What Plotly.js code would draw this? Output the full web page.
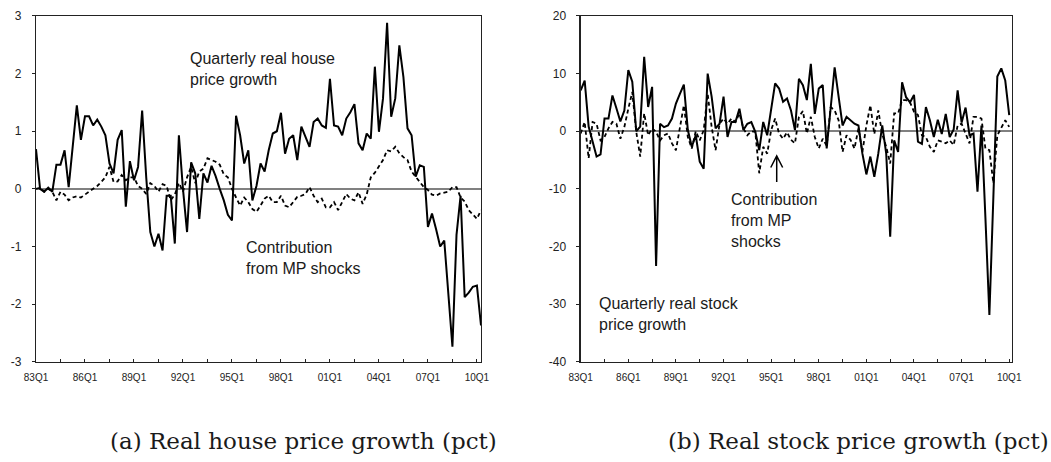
<!DOCTYPE html>
<html>
<head>
<meta charset="utf-8">
<script src="https://cdn.plot.ly/plotly-3.0.1.min.js"></script>
<style>
html,body{margin:0;padding:0;background:#fff;}
#chart{width:1051px;height:462px;}
</style>
</head>
<body>
<div id="chart"></div>
<script>
// Quarter labels (ticks every 6 quarters, labels every 12)
const tickLabels = ['83Q1','','86Q1','','89Q1','','92Q1','','95Q1','','98Q1','','01Q1','','04Q1','','07Q1','','10Q1'];
const tickPositions = [0,6,12,18,24,30,36,42,48,54,60,66,72,78,84,90,96,102,108];

// Panel (a): real house price growth (pct), 83Q1 onwards
const houseGrowth = [
  0.69, 0.0, -0.05, 0.02, -0.05, 0.42, 0.42, 0.67, 0.03, 0.75,
  1.45, 0.85, 1.26, 1.26, 1.1, 1.2, 1.08, 0.93, 0.44, 0.27,
  0.85, 1.02, -0.31, 0.48, 0.15, 0.38, 1.36, 0.2, -0.75, -1.0,
  -0.78, -1.07, -0.12, -0.12, -0.95, 0.93, 0.0, -0.75, 0.46, 0.27,
  -0.52, 0.27, 0.11, 0.4, 0.22, 0.0, -0.2, -0.45, -0.55, 1.27,
  0.93, 0.44, 0.67, -0.2, 0.05, 0.44, 0.3, 0.67, 0.96, 1.0,
  1.32, 0.61, 0.87, 0.93, 0.5, 1.08, 0.9, 0.73, 1.16, 1.22,
  1.1, 1.06, 1.91, 1.1, 1.08, 0.93, 1.22, 1.33, 1.47, 0.79,
  0.67, 0.96, 0.87, 2.12, 0.99, 1.57, 2.88, 1.25, 1.57, 2.49,
  1.94, 1.05, 0.93, 0.21, 0.41, 0.38, -0.66, -0.43, -0.7, -1.0,
  -0.9, -1.8, -2.74, -0.8, -0.12, -1.88, -1.8, -1.7, -1.68, -2.37
];
const houseMP = [
  0.0, 0.02, -0.05, 0.0, -0.05, -0.2, -0.05, -0.1, -0.2, -0.15,
  -0.13, -0.15, -0.1, -0.05, 0.0, 0.05, 0.12, 0.2, 0.38, 0.12,
  0.13, 0.24, 0.15, 0.2, 0.2, 0.05, 0.0, -0.09, 0.1, 0.05,
  -0.05, 0.08, 0.05, -0.2, -0.1, 0.1, -0.05, 0.2, 0.38, 0.1,
  0.3, 0.35, 0.53, 0.5, 0.47, 0.42, 0.25, 0.2, 0.0, -0.15,
  -0.29, -0.15, -0.23, -0.35, -0.4, -0.29, -0.17, -0.12, -0.23, -0.23,
  -0.12, -0.29, -0.32, -0.23, -0.14, -0.12, -0.09, 0.03, -0.12, -0.23,
  -0.17, -0.32, -0.32, -0.23, -0.37, -0.23, -0.09, -0.17, -0.2, -0.06,
  -0.26, -0.1, 0.2, 0.28, 0.38, 0.5, 0.67, 0.65, 0.73, 0.62,
  0.55, 0.5, 0.3, 0.2, 0.12, 0.03, -0.02, -0.1, -0.12, -0.08,
  -0.06, -0.05, 0.03, 0.03, -0.15, -0.22, -0.37, -0.45, -0.52, -0.37
];

// Panel (b): real stock price growth (pct)
const stockGrowth = [
  7.1, 8.8, 0.8, -2.0, -4.4, -4.0, 2.2, 2.2, 6.2, 4.0,
  1.7, 3.6, 10.6, 8.6, 0.0, 0.8, 12.9, 4.2, 7.7, -23.4,
  1.3, 0.7, 1.0, 2.2, 4.8, 6.5, 8.1, 0.2, -2.7, -0.7,
  -5.3, -6.5, 10.0, 6.0, 0.5, 1.3, 6.0, -1.0, 1.6, 1.6,
  3.9, 0.2, 1.3, 1.6, -0.1, -3.3, 1.6, -0.7, 4.2, 8.3,
  7.4, 5.1, 5.7, 3.6, 0.2, 9.1, 8.0, 5.4, 11.7, 3.0,
  7.4, 8.0, -3.0, 4.0, 11.1, 6.0, 1.0, 2.5, 1.9, 1.3,
  1.0, -3.9, -7.5, -4.4, -7.9, -3.9, 1.0, -3.9, -18.3, -1.6,
  -3.6, 8.5, 5.9, 5.0, 6.3, -1.8, -2.2, 4.2, 1.9, -1.0,
  2.0, -0.5, 3.0, -1.0, 0.3, 7.1, 1.5, 4.1, -0.7, -0.4,
  -10.5, 1.0, -15.0, -31.9, -11.5, 9.5, 10.9, 8.8, 2.8
];
const stockMP = [
  -0.4, 1.6, -4.7, 1.6, 1.3, -1.6, -1.0, 0.5, 1.6, 1.3,
  -1.3, 0.75, 3.9, 6.8, -0.1, -4.4, 3.1, -0.7, 0.5, -0.1,
  -1.6, -0.7, -0.4, -2.1, -3.3, 0.75, 4.5, -1.0, -3.0, 0.0,
  -1.6, 0.2, 6.5, 0.75, -3.3, 1.3, 2.2, 1.3, 2.2, 1.6,
  3.1, 0.5, -0.7, 0.0, -0.1, -7.3, -2.7, -3.9, 0.2, 2.2,
  -0.4, -1.3, -0.2, -1.5, -2.1, 2.5, 3.5, -0.4, 2.5, -1.0,
  -3.0, -1.3, -2.5, 4.2, 3.6, 1.9, -3.6, -0.7, -1.5, -3.0,
  0.5, -3.6, 1.0, 4.5, -0.5, 3.6, -0.5, -2.7, -5.6, 3.1,
  3.1, 5.4, 5.4, 5.0, 3.4, 2.8, -0.7, -1.0, -2.7, -3.6,
  -1.6, -1.8, -2.1, -1.6, -2.4, 1.0, 1.3, -0.4, -2.1, 2.5,
  2.5, 2.2, -3.0, -3.3, -9.0, -0.7, 0.75, 1.9, 0.75
];

const houseTicks = [-3,-2,-1,0,1,2,3];
const houseTickText = ['-3','-2','-1','0','1','2','3'];
const stockTicks = [-40,-30,-20,-10,0,10,20];
const stockTickText = ['-40','-30','-20','-10','0','10','20'];

const idx = n => Array.from({length:n}, (_, i) => i);

const SANS = 'Liberation Sans, Arial, sans-serif';
const solid = {color:'#000', width:2};
const dashed = {color:'#000', width:1.8, dash:'4px,3px'};

const traces = [
  {x: idx(houseMP.length), y: houseMP, type:'scatter', mode:'lines', line:dashed, xaxis:'x', yaxis:'y', hoverinfo:'skip'},
  {x: idx(houseGrowth.length), y: houseGrowth, type:'scatter', mode:'lines', line:solid, xaxis:'x', yaxis:'y', hoverinfo:'skip'},
  {x: idx(stockMP.length), y: stockMP, type:'scatter', mode:'lines', line:dashed, xaxis:'x2', yaxis:'y3', hoverinfo:'skip'},
  {x: idx(stockGrowth.length), y: stockGrowth, type:'scatter', mode:'lines', line:solid, xaxis:'x2', yaxis:'y3', hoverinfo:'skip'}
];

const yDom = [0.2171, 0.9654];
const xBase = {
  tickmode:'array', tickvals:tickPositions, ticktext:tickLabels,
  ticks:'inside', ticklen:3, tickwidth:1, tickcolor:'#222',
  showline:true, mirror:true, linecolor:'#222', linewidth:1.2,
  showgrid:false, zeroline:false, fixedrange:true,
  tickfont:{family:SANS, size:10, color:'#222'}, ticklabelstandoff:6
};
const yLeftBase = {
  tickmode:'array', ticks:'outside', ticklen:3, tickwidth:1, tickcolor:'#222',
  showline:true, mirror:true, linecolor:'#222', linewidth:1.2,
  showgrid:false, zeroline:true, zerolinecolor:'#808080', zerolinewidth:1.5,
  tickfont:{family:SANS, size:12, color:'#222'}, domain:yDom, fixedrange:true
};
const yRightBase = {
  tickmode:'array', ticks:'outside', ticklen:3, tickwidth:1, tickcolor:'#222',
  showline:false, showgrid:false, zeroline:false, side:'right',
  tickfont:{family:SANS, size:12, color:'#222'}, fixedrange:true
};

const annFont = {family:SANS, size:16, color:'#1a1a1a'};
const capFont = {family:'DejaVu Serif, Liberation Serif, serif', size:23, color:'#1a1a1a'};

const layout = {
  width:1051, height:462,
  margin:{l:0, r:0, t:0, b:0, pad:0},
  paper_bgcolor:'#fff', plot_bgcolor:'#fff',
  showlegend:false,
  xaxis: Object.assign({}, xBase, {domain:[0.03425, 0.45766], range:[0,109], anchor:'y'}),
  yaxis: Object.assign({}, yLeftBase, {range:[-3,3], tickvals:houseTicks, ticktext:houseTickText, anchor:'x', ticklabelstandoff:8}),
  yaxis2: Object.assign({}, yRightBase, {range:[-3,3], tickvals:houseTicks, ticktext:houseTickText, overlaying:'y', anchor:'x', ticklabelstandoff:8}),
  xaxis2: Object.assign({}, xBase, {domain:[0.55252, 0.96289], range:[0,108.7], anchor:'y3'}),
  yaxis3: Object.assign({}, yLeftBase, {range:[-40,20], tickvals:stockTicks, ticktext:stockTickText, anchor:'x2', ticklabelstandoff:8}),
  yaxis4: Object.assign({}, yRightBase, {range:[-40,20], tickvals:stockTicks, ticktext:stockTickText, overlaying:'y3', anchor:'x2', ticklabelstandoff:8}),
  shapes: [
    {type:'path', xref:'x2', yref:'y3', path:'M49.4,-4.3 L49.4,-8.8 M47.9,-6.3 L49.4,-4.3 L50.9,-6.3', line:{color:'#000', width:1.5}}
  ],
  annotations: [
    {xref:'x', yref:'y', x:37.3, y:2.45, xanchor:'left', yanchor:'top', align:'left', showarrow:false,
     text:'Quarterly real house<br>price growth', font:annFont},
    {xref:'x', yref:'y', x:51.0, y:-0.83, xanchor:'left', yanchor:'top', align:'left', showarrow:false,
     text:'Contribution<br>from MP shocks', font:annFont},
    {xref:'x2', yref:'y3', x:37.4, y:-10.0, xanchor:'left', yanchor:'top', align:'left', showarrow:false,
     text:'Contribution<br>from MP<br>shocks', font:annFont},
    {xref:'x2', yref:'y3', x:4.2, y:-28.0, xanchor:'left', yanchor:'top', align:'left', showarrow:false,
     text:'Quarterly real stock<br>price growth', font:annFont},
    {xref:'paper', yref:'paper', x:0.2883, y:0.0455, xanchor:'center', yanchor:'middle', showarrow:false,
     text:'(a) Real house price growth (pct)', font:capFont},
    {xref:'paper', yref:'paper', x:0.8173, y:0.0455, xanchor:'center', yanchor:'middle', showarrow:false,
     text:'(b) Real stock price growth (pct)', font:capFont}
  ]
};

Plotly.newPlot('chart', traces, layout, {staticPlot:true, displayModeBar:false});
</script>
</body>
</html>
